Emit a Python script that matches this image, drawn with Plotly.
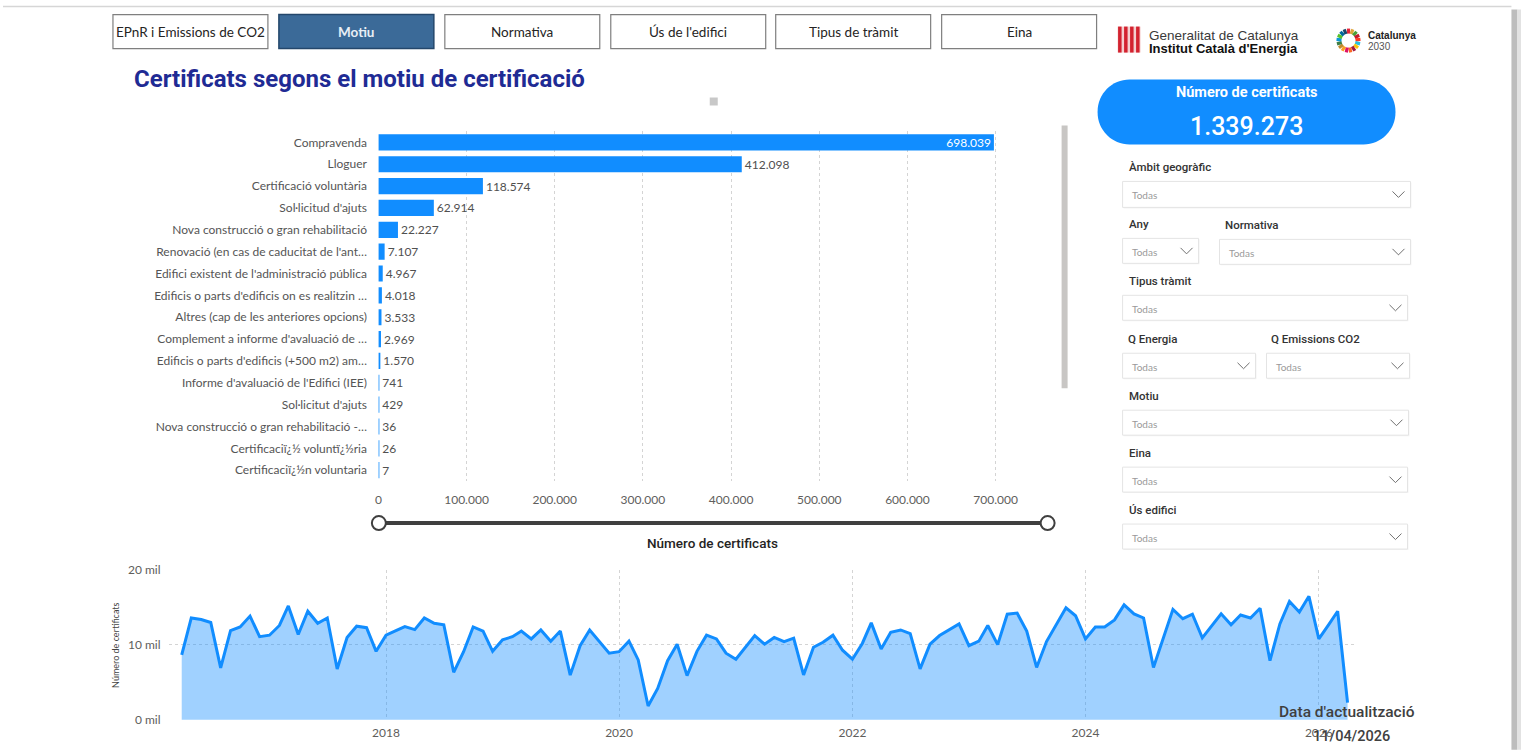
import math
import pandas as pd
import plotly.graph_objects as go

W, H = 1521, 750

# ---------------- data ----------------
motius = [
    "Compravenda",
    "Lloguer",
    "Certificació voluntària",
    "Sol·licitud d'ajuts",
    "Nova construcció o gran rehabilitació",
    "Renovació (en cas de caducitat de l'ant…",
    "Edifici existent de l'administració pública",
    "Edificis o parts d'edificis on es realitzin …",
    "Altres (cap de les anteriores opcions)",
    "Complement a informe d'avaluació de …",
    "Edificis o parts d'edificis (+500 m2) am…",
    "Informe d'avaluació de l'Edifici (IEE)",
    "Sol·licitut d'ajuts",
    "Nova construcció o gran rehabilitació -…",
    "Certificaciï¿½ voluntï¿½ria",
    "Certificaciï¿½n voluntaria",
]
certificats = [698039, 412098, 118574, 62914, 22227, 7107, 4967, 4018,
               3533, 2969, 1570, 741, 429, 36, 26, 7]
TOTAL = 1339273

primer_mes = "2016-04-01"
certificats_mensuals = [
    8660, 13600, 13400, 13000, 6950, 11900, 12400, 13850, 11100, 11300,
    12600, 15200, 11400, 14500, 12900, 13600, 6800, 11000, 12500, 12300,
    9150, 11300, 11900, 12450, 12050, 13600, 12900, 12700, 6350, 9100,
    12400, 11850, 9150, 10700, 11100, 11850, 10800, 12000, 10500, 11850,
    5970, 9900, 12000, 10500, 8900, 9100, 10500, 8000, 1850, 4200,
    7900, 10100, 5900, 9150, 11300, 10800, 8900, 8100, 9800, 11250,
    10100, 11000, 10450, 10900, 6000, 9700, 10350, 11300, 9300, 8100,
    10200, 12950, 9450, 11700, 12000, 11500, 6800, 10100, 11250, 12050,
    12800, 9900, 10500, 12600, 10050, 14100, 14250, 11850, 7000, 10450,
    12700, 14950, 13900, 10800, 12400, 12400, 13350, 15350, 14150, 13600,
    7000, 11000, 14750, 13500, 14100, 10950, 12700, 14150, 12700, 14000,
    13600, 14900, 7900, 12800, 15800, 14400, 16500, 10800, 12700, 14500,
    2300,
]
mesos = pd.date_range(primer_mes, periods=len(certificats_mensuals), freq="MS")

anys_ticks = ["2018-01-01", "2020-01-01", "2022-01-01", "2024-01-01", "2026-01-01"]
anys_text = ["2018", "2020", "2022", "2024", "2026"]
bar_ticks = [0, 100000, 200000, 300000, 400000, 500000, 600000, 700000]

botons = ["EPnR i Emissions de CO2", "Motiu", "Normativa", "Ús de l'edifici",
          "Tipus de tràmit", "Eina"]
filtres = ["Àmbit geogràfic", "Any", "Normativa", "Tipus tràmit", "Q Energia",
           "Q Emissions CO2", "Motiu", "Eina", "Ús edifici"]
data_actualitzacio = "11/04/2026"

# ---------------- helpers (screen pixel -> paper) ----------------
# measured mapping of the rendering: screen = B + A * figure_pixel
VA, VB = 0.981, 7.4
HA, HB = 0.9984, 2.0

def X(p):
    return ((p - HB) / HA) / W

def Y(p):
    return 1 - ((p - VB) / VA) / H

shapes = []
annotations = []

def rect(x0, y0, x1, y1, fill, line="rgba(0,0,0,0)", lw=1):
    shapes.append(dict(type="rect", xref="paper", yref="paper",
                       x0=X(x0), x1=X(x1), y0=Y(y1), y1=Y(y0),
                       fillcolor=fill, line=dict(color=line, width=lw), layer="above"))

def line(x0, y0, x1, y1, color, lw=1, dash="solid"):
    shapes.append(dict(type="line", xref="paper", yref="paper",
                       x0=X(x0), x1=X(x1), y0=Y(y0), y1=Y(y1),
                       line=dict(color=color, width=lw, dash=dash), layer="above"))

def circle(cx, cy, r, fill, lcolor, lw):
    shapes.append(dict(type="circle", xref="paper", yref="paper",
                       x0=X(cx - r), x1=X(cx + r), y0=Y(cy + r), y1=Y(cy - r),
                       fillcolor=fill, line=dict(color=lcolor, width=lw), layer="above"))

def P(x, y):
    return f"{X(x):.6f},{Y(y):.6f}"

def path(d, fill=None, lcolor="rgba(0,0,0,0)", lw=1):
    s = dict(type="path", xref="paper", yref="paper", path=d,
             line=dict(color=lcolor, width=lw), layer="above")
    if fill:
        s["fillcolor"] = fill
    shapes.append(s)

def rounded(x0, y0, x1, y1, r):
    k = 0.5523 * r
    return (f"M {P(x0+r, y0)} L {P(x1-r, y0)} "
            f"C {P(x1-r+k, y0)} {P(x1, y0+r-k)} {P(x1, y0+r)} "
            f"L {P(x1, y1-r)} "
            f"C {P(x1, y1-r+k)} {P(x1-r+k, y1)} {P(x1-r, y1)} "
            f"L {P(x0+r, y1)} "
            f"C {P(x0+r-k, y1)} {P(x0, y1-r+k)} {P(x0, y1-r)} "
            f"L {P(x0, y0+r)} "
            f"C {P(x0, y0+r-k)} {P(x0+r-k, y0)} {P(x0+r, y0)} Z")

def text(x, y, s, size, color, family="Lato", xanchor="center", weight="normal",
         angle=0):
    annotations.append(dict(xref="paper", yref="paper", x=X(x), y=Y(y), text=s,
                            showarrow=False, xanchor=xanchor, yanchor="middle",
                            textangle=angle, borderpad=0,
                            font=dict(size=size, color=color, family=family,
                                      weight=weight)))

# ---------------- page decorations ----------------
line(2, 6, 1511, 6, "#D6D6D6", 1.5)
rect(1511, 9, 1517, 750, "#BDBDBD")
rect(1517, 9, 1521, 750, "#E2E2E2")

# nav buttons
btn_x = [112, 278, 444, 610, 775, 941]
for i, (bx, lab) in enumerate(zip(btn_x, botons)):
    if lab == "Motiu":
        rect(bx, 14, bx + 155, 48, "#3B6A98", "#24476B", 1.5)
        text(bx + 77.5, 31.5, "<b>" + lab + "</b>", 13.5, "#E8EEF5")
    else:
        rect(bx, 14, bx + 155, 48, "#FFFFFF", "#7F7F7F", 1.2)
        text(bx + 77.5, 31.5, lab, 13.5, "#252423")

# Generalitat logo
rect(1117, 26, 1140, 52, "#F4CFCF")
for k in range(4):
    rect(1117.5 + k * 6, 26, 1121 + k * 6, 52, "#D3222F")
text(1147, 34.5, "Generalitat de Catalunya", 13.5, "#3A3A3A",
     family="Liberation Sans", xanchor="left")
text(1147, 48, "<b>Institut Català d'Energia</b>", 13, "#111111",
     family="Liberation Sans", xanchor="left")

# Catalunya 2030 logo (SDG ring)
sdg = ["#E5243B", "#DDA63A", "#4C9F38", "#C5192D", "#FF3A21", "#26BDE2",
       "#FCC30B", "#A21942", "#FD6925", "#DD1367", "#FD9D24", "#BF8B2E",
       "#3F7E44", "#0A97D9", "#56C02B", "#00689D", "#19486A"]
cx0, cy0 = 1348, 40
for k, c in enumerate(sdg):
    a = math.radians(90 - k * 360 / len(sdg))
    line(cx0 + 7 * math.cos(a), cy0 - 7 * math.sin(a),
         cx0 + 12 * math.cos(a), cy0 - 12 * math.sin(a), c, 3.2)
text(1367, 35, "<b>Catalunya</b>", 10, "#222222", family="Liberation Sans",
     xanchor="left")
text(1367, 46, "2030", 10, "#555555", family="Liberation Sans", xanchor="left")

# title
text(132, 78, "<b>Certificats segons el motiu de certificació</b>", 24,
     "#1F2B94", family="Roboto", xanchor="left")
rect(709, 97, 717, 105, "#C8C8C8")

# bar chart scroll bar + zoom slider
rect(1061, 125, 1067, 388, "#C8C6C4")
line(378, 523, 1047, 523, "#3F3F3F", 4)
circle(378, 523, 7, "#FFFFFF", "#3F3F3F", 2)
circle(1047, 523, 7, "#FFFFFF", "#3F3F3F", 2)
text(712, 543, "Número de certificats", 13.5, "#252423", family="Roboto",
     weight=500)

# KPI card
path(rounded(1097, 79, 1395, 144, 32), fill="#118DFF")
text(1246, 92, "<b>Número de certificats</b>", 14.5, "#FFFFFF", family="Roboto")
text(1246, 126, f"{TOTAL:,}".replace(",", "."), 25, "#FFFFFF", family="Roboto",
     weight=500)

# slicers
slicers = [
    (filtres[0], 1127, 167, 1122, 181, 1410, 207),
    (filtres[1], 1127, 224, 1122, 238, 1198, 263),
    (filtres[2], 1223, 225, 1219, 239, 1410, 264),
    (filtres[3], 1127, 281, 1122, 295, 1407, 320),
    (filtres[4], 1126, 339, 1122, 353, 1255, 378),
    (filtres[5], 1269, 339, 1266, 353, 1409, 378),
    (filtres[6], 1127, 396, 1122, 410, 1408, 435),
    (filtres[7], 1127, 453, 1122, 467, 1407, 492),
    (filtres[8], 1127, 510, 1122, 524, 1407, 549),
]
for lab, lx, ly, x0, y0, x1, y1 in slicers:
    text(lx, ly, lab, 11.5, "#333333", family="Roboto", xanchor="left", weight=500)
    rect(x0 + 1, y0 + 1, x1 + 1, y1 + 1, "#F4F4F4")
    rect(x0, y0, x1, y1, "#FFFFFF", "#E4E4E4", 1)
    text(x0 + 8, (y0 + y1) / 2 + 1, "Todas", 10, "#9A9A9A", xanchor="left")
    cxv, cyv = x1 - 12, (y0 + y1) / 2
    path(f"M {P(cxv-6, cyv-3)} L {P(cxv, cyv+3)} L {P(cxv+6, cyv-3)}",
         lcolor="#707070", lw=1)

# update date
text(1347, 712, "Data d'actualització", 15.5, "#404040", family="Roboto", weight=500)
text(1351, 737, data_actualitzacio, 14.5, "#404040", family="Roboto", weight=500)

# time series y-title
text(115, 645, "Número de certificats", 9, "#444444", angle=-90)

# ---------------- figure ----------------
fig = go.Figure()

positions = ["inside" if v > 600000 else "outside" for v in certificats]
fig.add_trace(go.Bar(
    x=certificats, y=list(range(len(motius))), orientation="h",
    marker=dict(color="#118DFF", line=dict(width=0)), width=0.74,
    text=[f"{v:,}".replace(",", ".") for v in certificats],
    textposition=positions, insidetextanchor="end",
    insidetextfont=dict(color="#FFFFFF", size=12, family="Lato"),
    outsidetextfont=dict(color="#505050", size=12, family="Lato"),
    constraintext="none", cliponaxis=False, hoverinfo="skip",
    xaxis="x", yaxis="y", showlegend=False,
))

fig.add_trace(go.Scatter(
    x=mesos, y=certificats_mensuals, mode="lines",
    line=dict(color="#118DFF", width=3), fill="tozeroy",
    fillcolor="rgba(17,141,255,0.40)", hoverinfo="skip",
    xaxis="x2", yaxis="y2", showlegend=False,
))

fig.update_layout(
    width=W, height=H, margin=dict(l=0, r=0, t=0, b=0),
    paper_bgcolor="#FFFFFF", plot_bgcolor="#FFFFFF",
    separators=",.", showlegend=False,
    font=dict(family="Lato", color="#605E5C", size=12),
    xaxis=dict(domain=[X(377.5), X(1055)], range=[0, 768000], anchor="y",
               tickvals=bar_ticks, tickformat=",", showgrid=True,
               gridcolor="#D4D4D4", griddash="dot", gridwidth=1,
               zeroline=False, showline=False, ticks="outside", ticklen=7,
               tickcolor="rgba(0,0,0,0)", tickfont=dict(size=12, color="#605E5C"),
               fixedrange=True),
    yaxis=dict(domain=[Y(481), Y(131)], range=[len(motius) - 0.5, -0.5],
               anchor="x", tickvals=list(range(len(motius))), ticktext=motius,
               showgrid=False, zeroline=False, showline=False,
               ticks="outside", ticklen=8, tickcolor="rgba(0,0,0,0)",
               tickfont=dict(size=12, color="#555555"), fixedrange=True),
    xaxis2=dict(domain=[X(168), X(1356)], range=["2016-02-21", "2026-04-29"],
                type="date", anchor="y2", tickvals=anys_ticks, ticktext=anys_text,
                showgrid=True, gridcolor="#D4D4D4", griddash="dot", gridwidth=1,
                zeroline=False, showline=False, ticks="outside", ticklen=2,
                tickcolor="rgba(0,0,0,0)", tickfont=dict(size=12, color="#605E5C"),
                fixedrange=True),
    yaxis2=dict(domain=[Y(720), Y(570)], range=[0, 20000], anchor="x2",
                tickvals=[0, 10000, 20000], ticktext=["0 mil", "10 mil", "20 mil"],
                showgrid=True, gridcolor="#D4D4D4", griddash="dot", gridwidth=1,
                zeroline=False, showline=False, ticks="outside", ticklen=5,
                tickcolor="rgba(0,0,0,0)", tickfont=dict(size=12, color="#605E5C"),
                fixedrange=True),
    shapes=shapes, annotations=annotations,
)

post = (
    "var gd=document.getElementById('{plot_id}');"
    "var de=document.documentElement, bd=document.body;"
    "de.style.margin='0';de.style.padding='0';de.style.overflow='hidden';"
    "bd.style.margin='0';bd.style.padding='0';bd.style.overflow='hidden';"
    "if(gd){gd.style.position='fixed';gd.style.left='0px';gd.style.top='0px';}"
)

fig.write_html("out.html", config={"displayModeBar": False}, post_script=post)
